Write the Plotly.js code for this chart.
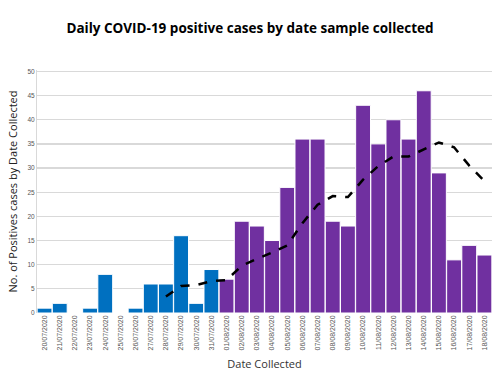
<!DOCTYPE html>
<html>
<head>
<meta charset="utf-8">
<script src="https://cdn.plot.ly/plotly-3.0.1.min.js"></script>
<style>html,body{margin:0;padding:0;background:#fff;}#chart{width:500px;height:375px;}</style>
</head>
<body>
<div id="chart"></div>
<script>
const dates = ["20/07/2020","21/07/2020","22/07/2020","23/07/2020","24/07/2020","25/07/2020","26/07/2020","27/07/2020","28/07/2020","29/07/2020","30/07/2020","31/07/2020","01/08/2020","02/08/2020","03/08/2020","04/08/2020","05/08/2020","06/08/2020","07/08/2020","08/08/2020","09/08/2020","10/08/2020","11/08/2020","12/08/2020","13/08/2020","14/08/2020","15/08/2020","16/08/2020","17/08/2020","18/08/2020"];
const cases = [1,2,0,1,8,0,1,6,6,16,2,9,7,19,18,15,26,36,36,19,18,43,35,40,36,46,29,11,14,12];
const rollingAvg = [null,null,null,null,null,null,null,null,3.4,5.6,5.8,6.6,6.8,9.8,11.2,12.5,14,18.6,22.4,24.2,24,27.6,30.4,32.4,32.4,33.9,35.3,34.3,30.5,27.3];
const julyColor = "#0070C0";
const augColor = "#7030A0";
const barColors = dates.map(d => d.slice(3,5) === "07" ? julyColor : augColor);

const traces = [
  {type:"bar", x:dates, y:cases, marker:{color:barColors, line:{color:"#ffffff", width:1}}, hoverinfo:"x+y", showlegend:false},
  {type:"scatter", mode:"lines", x:dates, y:rollingAvg, line:{color:"#000000", width:2.5, dash:"dash"}, connectgaps:false, showlegend:false}
];
const layout = {
  width:500, height:375,
  margin:{l:37, r:8, t:70, b:62},
  paper_bgcolor:"#ffffff", plot_bgcolor:"#ffffff",
  bargap:0.02,
  title:{text:"<b>Daily COVID-19 positive cases by date sample collected</b>", font:{family:"Open Sans, Liberation Sans, sans-serif", size:13.5, color:"#000"}, x:0.5, xanchor:"center", y:0.925, yanchor:"middle", yref:"container"},
  xaxis:{type:"category", tickangle:-90, tickfont:{size:7, color:"#555", family:"Liberation Sans, sans-serif"}, showline:false, showgrid:false, ticks:"", title:{text:"Date Collected", font:{size:11, color:"#333", family:"Open Sans, sans-serif"}, standoff:10}},
  yaxis:{range:[0,50.3], dtick:5, tickfont:{size:6.5, color:"#555", family:"Liberation Sans, sans-serif"}, gridcolor:"#d9d9d9", gridwidth:1.2, showline:true, linecolor:"#d9d9d9", zeroline:false, ticks:"", title:{text:"No. of Positives cases by Date Collected", font:{size:11, color:"#222", family:"Open Sans, sans-serif"}, standoff:7}}
};
Plotly.newPlot("chart", traces, layout, {displayModeBar:false, staticPlot:true});
</script>
</body>
</html>
